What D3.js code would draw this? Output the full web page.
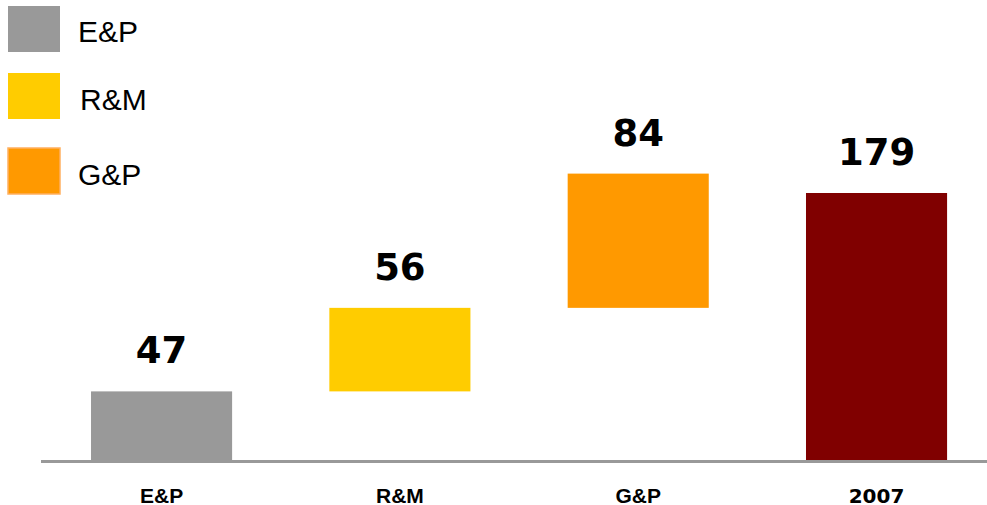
<!DOCTYPE html>
<html>
<head>
<meta charset="utf-8">
<script src="https://cdn.jsdelivr.net/npm/d3@7"></script>
<style>
  html, body { margin: 0; padding: 0; background: #fff; }
  svg { display: block; }
</style>
</head>
<body>
<svg id="chart" width="987" height="505"></svg>
<script>
// ---- data ----
const categories = ["E&P", "R&M", "G&P", "2007"];
const values = [47, 56, 84, 179];          // printed labels
const barBase = [0, 46, 102, 0];           // floating bar bottoms
const barTop = [46, 102, 192, 179];        // floating bar tops
const barColors = ["#999999", "#FFCC00", "#FF9900", "#800000"];
const legendItems = ["E&P", "R&M", "G&P"];
const legendColors = ["#999999", "#FFCC00", "#FF9900"];

// ---- layout ----
const W = 987, H = 505;
const baseY = 460;
const svg = d3.select("#chart");

const x = d3.scaleBand()
  .domain(categories)
  .range([42.4, 995.7])
  .paddingInner(0.408)
  .paddingOuter(0.204);

const y = d3.scaleLinear()
  .domain([0, 179])
  .range([baseY, 193]);

// bars
svg.append("g").selectAll("rect")
  .data(categories)
  .join("rect")
  .attr("x", d => x(d))
  .attr("width", x.bandwidth())
  .attr("y", (d, i) => y(barTop[i]))
  .attr("height", (d, i) => y(barBase[i]) - y(barTop[i]))
  .attr("fill", (d, i) => barColors[i]);

// axis line
svg.append("line")
  .attr("x1", 41).attr("x2", W)
  .attr("y1", baseY + 1.5).attr("y2", baseY + 1.5)
  .attr("stroke", "#999999")
  .attr("stroke-width", 3);

// value labels
svg.append("g").selectAll("text")
  .data(categories)
  .join("text")
  .attr("x", d => x(d) + x.bandwidth() / 2)
  .attr("y", (d, i) => y(barTop[i]) - 28)
  .attr("text-anchor", "middle")
  .attr("font-family", "DejaVu Sans, Verdana, sans-serif")
  .attr("font-weight", "bold")
  .attr("font-size", 37)
  .attr("fill", "#000")
  .text((d, i) => values[i]);

// category labels
svg.append("g").selectAll("text")
  .data(categories)
  .join("text")
  .attr("x", d => x(d) + x.bandwidth() / 2)
  .attr("y", 503)
  .attr("text-anchor", "middle")
  .attr("font-family", d => /^\d+$/.test(d) ? "DejaVu Sans, Verdana, sans-serif" : "Liberation Sans, Arial, sans-serif")
  .attr("font-weight", "bold")
  .attr("font-size", d => /^\d+$/.test(d) ? 20 : 21)
  .attr("fill", "#000")
  .text(d => d);

// legend
const legendSwatchY = [6, 73, 148];
const legendTextY = [42, 110, 185];
const legendTextX = [78, 80, 78];
const lg = svg.append("g");
legendItems.forEach((name, i) => {
  lg.append("rect")
    .attr("x", 8).attr("y", legendSwatchY[i])
    .attr("width", 52).attr("height", 46)
    .attr("fill", legendColors[i])
    .attr("stroke", i === 2 ? "#FFB060" : "none")
    .attr("stroke-width", i === 2 ? 1.5 : 0);
  lg.append("text")
    .attr("x", legendTextX[i]).attr("y", legendTextY[i])
    .attr("font-family", "Liberation Sans, Arial, sans-serif")
    .attr("font-size", 30)
    .attr("fill", "#000")
    .text(name);
});
</script>
</body>
</html>
